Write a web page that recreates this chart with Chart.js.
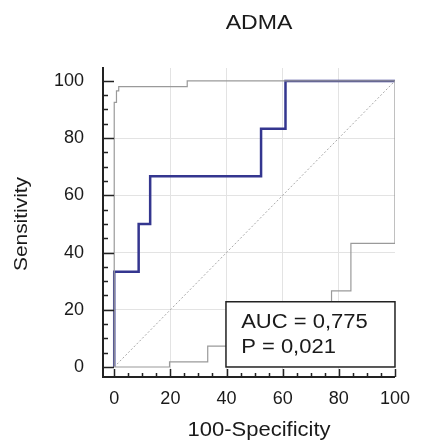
<!DOCTYPE html>
<html>
<head>
<meta charset="utf-8">
<script src="https://cdn.jsdelivr.net/npm/chart.js@4"></script>
<style>
  html, body { margin: 0; padding: 0; background: #fff; }
  #wrap { width: 421px; height: 442px; }
</style>
</head>
<body>
<div id="wrap"><canvas id="roc"></canvas></div>
<script>
// ROC curve (100-Specificity, Sensitivity) corner points
const rocFpr = [0, 0, 8.7, 8.7, 12.8, 12.8, 52.3, 52.3, 61, 61, 100]
const rocSens = [0, 33.3, 33.3, 50, 50, 66.7, 66.7, 83.3, 83.3, 100, 100]

// confidence bounds
const upperFpr = [0, 0, 0.8, 0.8, 1.6, 1.6, 26, 26, 100]
const upperSens = [0, 92.5, 92.5, 96.5, 96.5, 98, 98, 100, 100]
const lowerFpr = [0, 19.7, 19.7, 33.3, 33.3, 40, 40, 60, 60, 77.4, 77.4, 84.3, 84.3, 100, 100]
const lowerSens = [0, 0, 1.8, 1.8, 7.3, 7.3, 13, 13, 20, 20, 26.6, 26.6, 43.2, 43.2, 100]

const diagFpr = [0, 100]
const diagSens = [0, 100]

const tickValues = [0, 20, 40, 60, 80, 100]
const chartTitle = "ADMA"
const xTitle = "100-Specificity"
const yTitle = "Sensitivity"
const statsLines = ["AUC = 0,775", "P = 0,021"]

const toPoints = (xs, ys) => xs.map((x, i) => ({ x: x, y: ys[i] }))

const fontFamily = "'Liberation Sans', Arial, sans-serif"
const textColor = "#1a1a1a"

// text in the reference is a bit wider than plain Arial
function wideText(ctx, text, x, y, size, align, rotate) {
  ctx.save()
  ctx.translate(x, y)
  if (rotate) ctx.rotate(-Math.PI / 2)
  ctx.scale(1.1, 1)
  ctx.font = size + "px " + fontFamily
  ctx.fillStyle = textColor
  ctx.textAlign = align
  ctx.textBaseline = "middle"
  ctx.fillText(text, 0, 0)
  ctx.restore()
}

// inward ticks (major + minor), titles and stats box
const plotExtras = {
  id: "plotExtras",
  afterDatasetsDraw(chart) {
    const { ctx, scales: { x, y } } = chart
    const left = x.getPixelForValue(39.8)
    const right = x.getPixelForValue(100)
    const top = y.getPixelForValue(22.8)
    const bottom = y.getPixelForValue(0)
    ctx.save()
    ctx.fillStyle = "#fff"
    ctx.fillRect(left, top, right - left, bottom - top)
    ctx.strokeStyle = "#222"
    ctx.lineWidth = 1.5
    ctx.strokeRect(left, top, right - left, bottom - top)
    ctx.restore()
    wideText(ctx, statsLines[0], x.getPixelForValue(45.2), y.getPixelForValue(15.7), 20, "left")
    wideText(ctx, statsLines[1], x.getPixelForValue(45.2), y.getPixelForValue(6.8), 20, "left")
  },
  afterDraw(chart) {
    const { ctx, chartArea, scales: { x, y } } = chart
    ctx.save()
    ctx.strokeStyle = "#222"
    ctx.lineWidth = 1.5
    ctx.beginPath()
    for (let v = 0; v <= 100; v += 5) {
      const major = v % 20 === 0
      const px = Math.round(x.getPixelForValue(v)) + 0.5
      ctx.moveTo(px, chartArea.bottom)
      ctx.lineTo(px, chartArea.bottom - (major ? 8 : 4))
      const py = Math.round(y.getPixelForValue(v)) + 0.5
      ctx.moveTo(chartArea.left, py)
      ctx.lineTo(chartArea.left + (major ? 11 : 5), py)
    }
    ctx.stroke()
    ctx.restore()

    wideText(ctx, chartTitle, 259, 23, 21, "center")
    wideText(ctx, xTitle, 259, 430, 20, "center")
    wideText(ctx, yTitle, 22, 224, 19, "center", true)
  }
}

const gridColor = (c) => (c.tick && c.tick.value > 0 && c.tick.value < 100) ? "#e3e3e3" : "rgba(0,0,0,0)"
const setTicks = (scale) => { scale.ticks = tickValues.map(v => ({ value: v })) }

new Chart(document.getElementById("roc").getContext("2d"), {
  type: "line",
  data: {
    datasets: [
      {
        label: "diagonal",
        data: toPoints(diagFpr, diagSens),
        borderColor: "#a8a8a8",
        borderWidth: 1,
        borderDash: [2, 2],
        pointRadius: 0
      },
      {
        label: "upper",
        data: toPoints(upperFpr, upperSens),
        borderColor: "#9a9a9a",
        borderWidth: 1.2,
        pointRadius: 0
      },
      {
        label: "lower",
        data: toPoints(lowerFpr, lowerSens),
        borderColor: "#9a9a9a",
        borderWidth: 1.2,
        pointRadius: 0
      },
      {
        label: "ADMA",
        data: toPoints(rocFpr, rocSens),
        borderColor: "#34368f",
        borderWidth: 2.5,
        pointRadius: 0
      }
    ]
  },
  options: {
    responsive: true,
    maintainAspectRatio: false,
    animation: false,
    layout: { padding: { left: 0, right: 19, top: 68, bottom: 0 } },
    scales: {
      x: {
        type: "linear",
        min: -4,
        max: 100,
        afterBuildTicks: setTicks,
        afterFit: (scale) => { scale.height = 65 },
        border: { display: true, color: "#222", width: 2 },
        grid: { color: gridColor, drawTicks: false },
        ticks: { color: textColor, padding: 11, font: { size: 18, family: fontFamily } }
      },
      y: {
        type: "linear",
        min: -3.5,
        max: 104.5,
        afterBuildTicks: setTicks,
        afterFit: (scale) => { scale.width = 103 },
        border: { display: true, color: "#222", width: 2 },
        grid: { color: gridColor, drawTicks: false },
        ticks: { color: textColor, padding: 19, font: { size: 18, family: fontFamily } }
      }
    },
    plugins: {
      legend: { display: false },
      tooltip: { enabled: false },
      title: { display: false }
    }
  },
  plugins: [plotExtras]
})
</script>
</body>
</html>
